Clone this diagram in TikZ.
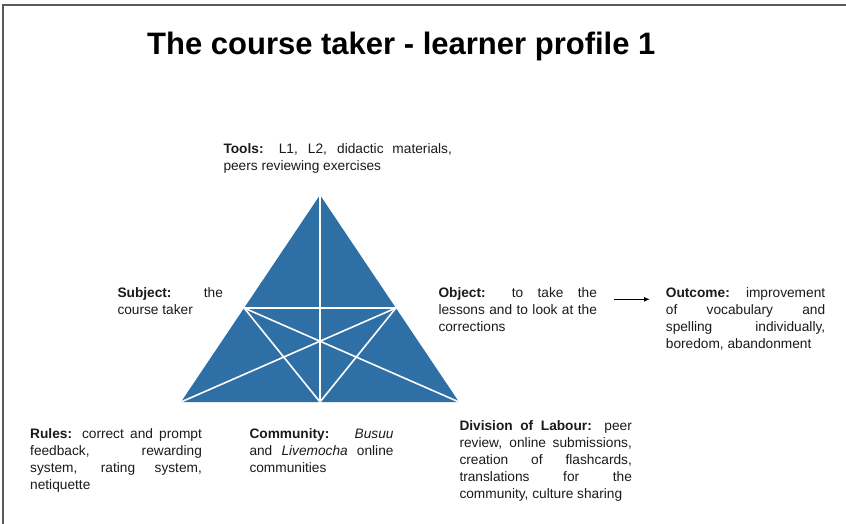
\documentclass[tikz,border=0pt]{standalone}
\usepackage{fontspec}
\setmainfont{Liberation Sans}
\usetikzlibrary{calc,arrows.meta}
\definecolor{triblue}{HTML}{2E6FA6}
\definecolor{txt}{HTML}{1A1A1A}
\newcommand\jline[2]{\makebox[#1][s]{#2}}
\newcommand\firststrut{\rule{0pt}{10pt}}
\begin{document}
\begin{tikzpicture}[x=1pt,y=-1pt,
  blk/.style={anchor=north west, inner sep=0pt, align=left, text=txt,
    font=\fontsize{13.7}{17}\selectfont},
  ttl/.style={anchor=base west, inner sep=0pt, text=black,
    font=\fontsize{31}{36}\selectfont\bfseries},
  wline/.style={draw=white, line width=1.6pt},
  arr/.style={draw=black, line width=1.3pt, -{Latex[length=6pt,width=5pt]}}]
\useasboundingbox (0,0) rectangle (846,524);
% frame
\draw[draw={rgb,255:red,90;green,90;blue,90}, line width=1.6pt] (3,530) -- (3,5) -- (850,5);
% title
\node[ttl] (title) at (147,55) {The course taker - learner profile 1};
% triangle
\coordinate (A) at (320,195);
\coordinate (BL) at (181,402);
\coordinate (BR) at (459,402);
\coordinate (M) at (320,402);
\coordinate (L) at ($(BL)!0.4541!(A)$);
\coordinate (R) at ($(BR)!0.4541!(A)$);
\fill[triblue] (A) -- (BL) -- (BR) -- cycle;
\draw[wline] (A) -- (M);
\draw[wline] (L) -- (R);
\draw[wline] (L) -- (M);
\draw[wline] (R) -- (M);
\draw[wline] (L) -- (BR);
\draw[wline] (R) -- (BL);
% texts
\node[blk] (tools) at (223.3,143) {\firststrut\jline{228.4pt}{\textbf{Tools:} L1, L2, didactic materials,}\\peers reviewing exercises};
\node[blk] (subj) at (117.3,287) {\firststrut\jline{105.4pt}{\textbf{Subject:} the}\\course taker};
\node[blk] (obj) at (438.3,287) {\firststrut\jline{158.4pt}{\textbf{Object:} to take the}\\\jline{158.4pt}{lessons and to look at the}\\corrections};
\node[blk] (out) at (665.7,287) {\firststrut\jline{159.3pt}{\textbf{Outcome:} improvement}\\\jline{159.3pt}{of vocabulary and}\\\jline{159.3pt}{spelling individually,}\\boredom, abandonment};
\node[blk] (rules) at (30,428.3) {\firststrut\jline{171.7pt}{\textbf{Rules:} correct and prompt}\\\jline{171.7pt}{feedback, rewarding}\\\jline{171.7pt}{system, rating system,}\\netiquette};
\node[blk] (comm) at (249.3,428.3) {\firststrut\jline{144pt}{\textbf{Community:} \textit{Busuu}}\\\jline{144pt}{and \textit{Livemocha} online}\\communities};
\node[blk] (div) at (459.3,420.7) {\firststrut\jline{172.4pt}{\textbf{Division of Labour:} peer}\\\jline{172.4pt}{review, online submissions,}\\\jline{172.4pt}{creation of flashcards,}\\\jline{172.4pt}{translations for the}\\community, culture sharing};
% arrow
\path (obj.north east) ++(17.3,12.3) coordinate (as);
\path (out.north west) ++(-15.7,12.3) coordinate (ae);
\draw[arr] (as) -- (ae);
\end{tikzpicture}
\end{document}
